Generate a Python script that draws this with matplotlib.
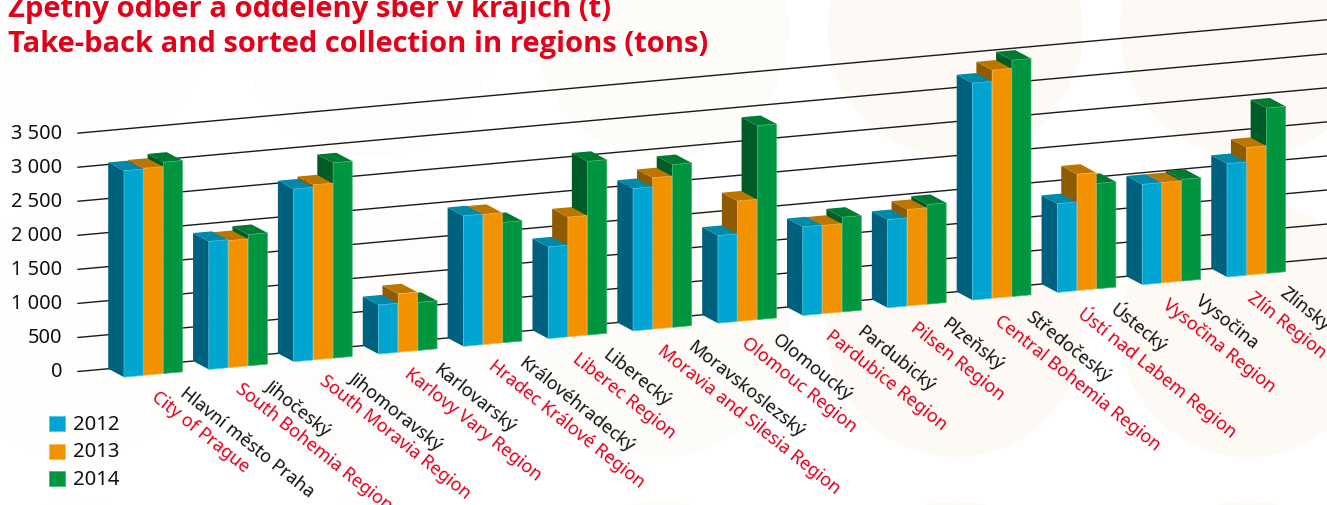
import matplotlib
matplotlib.use("Agg")
import matplotlib.pyplot as plt
from matplotlib.patches import Polygon, Circle, Rectangle

labels_cz = ["Hlavní město Praha", "Jihočeský", "Jihomoravský", "Karlovarský", "Královéhradecký",
             "Liberecký", "Moravskoslezský", "Olomoucký", "Pardubický", "Plzeňský",
             "Středočeský", "Ústecký", "Vysočina", "Zlínský"]
labels_en = ["City of Prague", "South Bohemia Region", "South Moravia Region", "Karlovy Vary Region",
             "Hradec Králové Region", "Liberec Region", "Moravia and Silesia Region", "Olomouc Region",
             "Pardubice Region", "Pilsen Region", "Central Bohemia Region", "Ústí nad Labem Region",
             "Vysočina Region", "Zlín Region"]
v2012 = [3030, 1880, 2535, 720, 1916, 1346, 2090, 1287, 1302, 1295, 3186, 1302, 1473, 1664]
v2013 = [3040, 1865, 2570, 857, 1910, 1757, 2222, 1767, 1297, 1417, 3350, 1708, 1473, 1875]
v2014 = [3103, 1928, 2868, 705, 1766, 2550, 2389, 2849, 1390, 1464, 3470, 1547, 1493, 2428]
years = ["2012", "2013", "2014"]
ticks = [0, 500, 1000, 1500, 2000, 2500, 3000, 3500]
tick_text = ["0", "500", "1 000", "1 500", "2 000", "2 500", "3 000", "3 500"]
title1 = "Zpětný odběr a oddělený sběr v krajích (t)"
title2 = "Take-back and sorted collection in regions (tons)"

FRONT = ["#00A5D1", "#F39200", "#009640"]
SIDE = ["#00617F", "#8F5B00", "#005C27"]
TOP = ["#0089A9", "#BC7600", "#007A33"]
EDGE = ["#4FC3E0", "#F8B850", "#3DB26E"]
RED = "#E2001A"
FONT = "Noto Sans"

K, SLOPE = 0.0681, 0.0908
X0, Y0 = 78.0, 372.5
PITCH, BARW = 84.85, 19.7
FIRST = 124.0
DX, DY = 15.8, 8.4


def plane(x, v):
    return Y0 - K * v - SLOPE * (x - X0)


def bar_corner(x, v):
    """Front point of a bar at horizontal pixel x for value v."""
    return x, plane(x - DX, v) + DY


def back(p):
    return p[0] - DX, p[1] - DY


fig = plt.figure(figsize=(13.27, 5.06), dpi=100, facecolor="white")
ax = fig.add_axes([0, 0, 1, 1])
ax.set_xlim(0, 1327)
ax.set_ylim(506, 0)
ax.axis("off")

for cy in (30, 330, 630):
    for cx, col in ((78, "#FEFEFC"), (368, "#FEFDFB"), (662, "#FEFCF9"), (955, "#FDFAF6"), (1248, "#FDFAF5")):
        ax.add_patch(Circle((cx, cy), 128, fc=col, ec="none", zorder=0))

for t, s in zip(ticks, tick_text):
    ax.plot([X0, 1327], [plane(X0, t), plane(1327, t)], color="#1a1a1a", lw=1.0, zorder=1)
    ax.text(62, plane(X0, t) - 0.5, s, ha="right", va="center", fontsize=14.4, family=FONT, color="#111111")

series = [v2012, v2013, v2014]
z = 2
for g in range(len(labels_cz)):
    for s in (2, 1, 0):
        v = series[s][g]
        xl = FIRST + PITCH * g + BARW * s
        xr = xl + BARW - 0.6
        bl = bar_corner(xl, 0)
        br = bar_corner(xr, 0)
        tl = bar_corner(xl, v)
        tr = bar_corner(xr, v)
        ax.add_patch(Polygon([bl, tl, back(tl), back(bl)], fc=SIDE[s], ec="none", zorder=z))
        ax.add_patch(Polygon([tl, tr, back(tr), back(tl)], fc=TOP[s], ec="none", zorder=z + 0.1))
        ax.add_patch(Polygon([bl, br, tr, tl], fc=FRONT[s], ec=EDGE[s], lw=0.5, zorder=z + 0.2))
        z += 1

for g, (cz, en) in enumerate(zip(labels_cz, labels_en)):
    ax.text(182 + 84.6 * g, 391.5 - 7.7 * g, cz, rotation=-38.5, rotation_mode="anchor",
            ha="left", va="center", fontsize=13.0, family=FONT, color="#111111", zorder=200)
    ax.text(153.5 + 84.3 * g, 394.5 - 7.6 * g, en, rotation=-38.5, rotation_mode="anchor",
            ha="left", va="center", fontsize=13.0, family=FONT, color=RED, zorder=200)

for i, (yr, yc) in enumerate(zip(years, (424.5, 452, 479.5))):
    ax.add_patch(Rectangle((49, yc - 7.5), 16, 15, fc=FRONT[i], ec=EDGE[i], lw=0.5, zorder=3))
    ax.text(73, yc + 0.5, yr, ha="left", va="center", fontsize=14.6, family=FONT, color="#111111")

ax.text(8, 17, title1, fontsize=21.0, fontweight="bold", family="Open Sans", color=RED, va="baseline")
ax.text(8, 52, title2, fontsize=21.0, fontweight="bold", family="Open Sans", color=RED, va="baseline")

fig.savefig("out.png", dpi=100)
